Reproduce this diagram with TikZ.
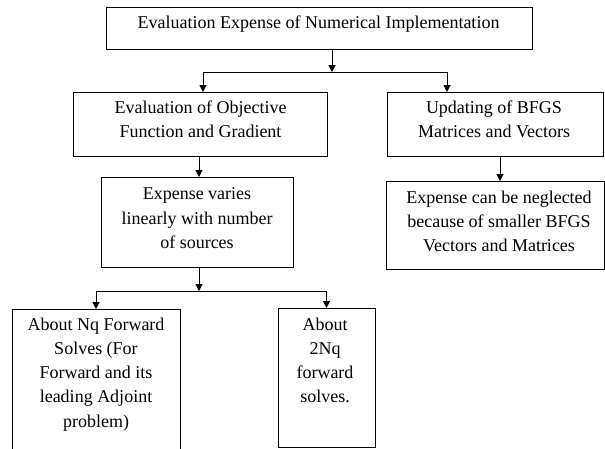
\documentclass[tikz,border=0pt]{standalone}
\usepackage{fontspec}
\setmainfont{Liberation Serif}
\usetikzlibrary{arrows.meta}
\begin{document}
\begin{tikzpicture}[x=1pt,y=-1pt,
  box/.style={draw=black, line width=1pt, inner sep=0pt, outer sep=0pt},
  txt/.style={align=center, inner sep=0pt, anchor=north, font=\fontsize{18}{24.2}\selectfont},
  arr/.style={-{Triangle[length=7pt,width=7pt]}, line width=1pt}]
\useasboundingbox (0,0) rectangle (605,448);
\clip (0,0) rectangle (605,448);
% boxes
\node[box, minimum width=426pt, minimum height=42pt] (b1) at (319,28) {};
\node[box, minimum width=254pt, minimum height=64pt] (b2) at (200,124) {};
\node[box, minimum width=216pt, minimum height=64pt] (b3) at (495,124) {};
\node[box, minimum width=192pt, minimum height=90pt] (b4) at (197,222) {};
\node[box, minimum width=218pt, minimum height=88pt] (b5) at (495,225) {};
\node[box, minimum width=168pt, minimum height=161pt] (b6) at (96,389.5) {};
\node[box, minimum width=97pt, minimum height=139pt] (b7) at (326.5,377.5) {};
% texts
\node[txt] (t1) at (318.5,16) {Evaluation Expense of Numerical Implementation};
\node[txt] (t2) at (200.5,100.7) {Evaluation of Objective\\Function and Gradient};
\node[txt] (t3) at (494,100.7) {Updating of BFGS\\Matrices and Vectors};
\node[txt] (t4) at (197,187.7) {Expense varies\\linearly with number\\of sources};
\node[txt] (t5) at (499,190.7) {Expense can be neglected\\because of smaller BFGS\\Vectors and Matrices};
\node[txt] (t6) at (96,317.7) {About Nq Forward\\Solves (For\\Forward and its\\leading Adjoint\\problem)};
\node[txt] (t7) at (325,317.7) {About\\2Nq\\forward\\solves.};
% connectors
\coordinate (j1) at (332,72);
\draw[arr] (b1.south -| j1) -- (j1);
\draw[arr] (j1) -| ([xshift=3pt]b2.north);
\draw[arr] (j1) -| ([xshift=-48pt]b3.north);
\draw[arr] ([xshift=-1pt]b2.south) -- ([xshift=-1pt]b2.south |- b4.north);
\draw[arr] ([xshift=5pt]b3.south) -- ([xshift=5pt]b3.south |- b5.north);
\coordinate (j2) at (199,291);
\draw[arr] (b4.south -| j2) -- (j2);
\draw[arr] (j2) -| (b6.north);
\draw[arr] (j2) -| (b7.north);
\end{tikzpicture}
\end{document}
